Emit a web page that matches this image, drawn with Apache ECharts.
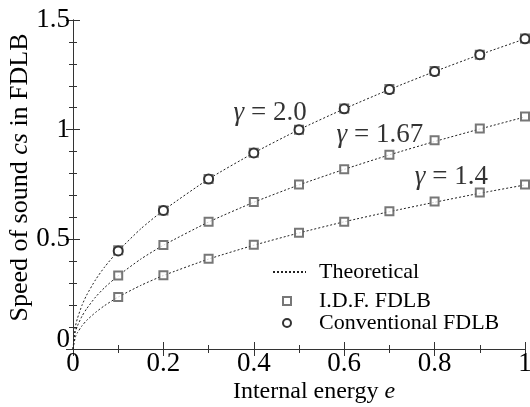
<!DOCTYPE html>
<html>
<head>
<meta charset="utf-8">
<script src="https://cdn.jsdelivr.net/npm/echarts@6/dist/echarts.min.js"></script>
<style>html,body{margin:0;padding:0;background:#fff}#c{width:530px;height:407px}</style>
</head>
<body>
<div id="c"></div>
<script>
// ---- data ----
const theoryE   = [0, 0.005, 0.01, 0.02, 0.03, 0.05, 0.07, 0.1, 0.15, 0.2, 0.3, 0.4, 0.5, 0.6, 0.7, 0.8, 0.9, 1.0];
const theoryG20 = [0, 0.100, 0.141, 0.200, 0.245, 0.316, 0.374, 0.447, 0.548, 0.632, 0.775, 0.894, 1.000, 1.095, 1.183, 1.265, 1.342, 1.414];
const theoryG167= [0, 0.075, 0.106, 0.150, 0.183, 0.237, 0.280, 0.334, 0.410, 0.473, 0.579, 0.669, 0.748, 0.819, 0.885, 0.946, 1.003, 1.058];
const theoryG14 = [0, 0.053, 0.075, 0.106, 0.130, 0.167, 0.198, 0.237, 0.290, 0.335, 0.410, 0.473, 0.529, 0.580, 0.626, 0.669, 0.710, 0.748];

const simE      = [0.1, 0.2, 0.3, 0.4, 0.5, 0.6, 0.7, 0.8, 0.9, 1.0];
const idfG20    = [0.450, 0.632, 0.775, 0.895, 1.000, 1.097, 1.185, 1.267, 1.342, 1.416];
const idfG167   = [0.335, 0.474, 0.580, 0.670, 0.750, 0.820, 0.886, 0.952, 1.005, 1.060];
const idfG14    = [0.237, 0.336, 0.411, 0.475, 0.530, 0.580, 0.628, 0.672, 0.713, 0.750];
const convG20   = [0.447, 0.632, 0.775, 0.894, 1.000, 1.095, 1.183, 1.265, 1.342, 1.414];

const gammaLabels = ['2.0', '1.67', '1.4'];
const gammaLabelE = [0.436, 0.679, 0.837];
const gammaLabelC = [1.076, 0.975, 0.784];

const xTicks = [0, 0.2, 0.4, 0.6, 0.8, 1];
const yTicks = [0, 0.5, 1, 1.5];
// -------------------------------------

const FONT = 'Liberation Serif';
const TXT = '#000';
const pair = (xs, ys) => xs.map((x, i) => [x, ys[i]]);

const chart = echarts.init(document.getElementById('c'), null, {renderer: 'canvas'});

const axisCommon = {
  type: 'value',
  axisLine: {show: true, lineStyle: {color: '#333', width: 1}},
  axisTick: {show: true, inside: true, length: 7, lineStyle: {color: '#333'}},
  minorTick: {show: true, length: 4, lineStyle: {color: '#333'}},
  splitLine: {show: false},
  minorSplitLine: {show: false}
};

const theoryLine = {
  type: 'line', name: 'Theoretical', symbol: 'none', smooth: 0.2,
  itemStyle: {color: '#222'},
  lineStyle: {color: '#222', width: 1, type: [2, 2]}, z: 2, silent: true
};

const option = {
  backgroundColor: '#fff',
  animation: false,
  grid: {left: 73, right: 5, top: 20, bottom: 58, containLabel: false, outerBoundsMode: 'none'},
  legend: [
    {
      data: [{name: 'Theoretical', itemStyle: {opacity: 0}}], left: 272, top: 261, padding: 0,
      itemWidth: 33, itemHeight: 10,
      textStyle: {fontFamily: FONT, fontSize: 22, color: TXT, lineHeight: 22, padding: [0, 0, 0, 8]}
    },
    {
      data: ['I.D.F. FDLB', 'Conventional FDLB'], orient: 'vertical',
      left: 282, top: 290, padding: 0, itemGap: 0,
      itemWidth: 8, itemHeight: 8,
      textStyle: {fontFamily: FONT, fontSize: 22, color: TXT, lineHeight: 22, padding: [0, 0, 0, 23]}
    }
  ],
  xAxis: [
    Object.assign({}, axisCommon, {
      min: 0, max: 1, interval: 0.2, position: 'bottom',
      minorTick: Object.assign({}, axisCommon.minorTick, {splitNumber: 2}),
      axisLabel: {
        fontFamily: FONT, fontSize: 27, color: TXT, margin: 1,
        formatter: v => (xTicks.indexOf(+v.toFixed(1)) >= 0 ? String(+v.toFixed(1)) : '')
      },
      name: 'Internal energy {i|e}', nameLocation: 'middle', nameGap: 31,
      nameMoveOverlap: false,
      nameTextStyle: {
        fontFamily: FONT, fontSize: 24, color: TXT, padding: [0, 0, 0, 30],
        rich: {i: {fontFamily: FONT, fontSize: 24, fontStyle: 'italic', color: TXT}}
      }
    }),
    Object.assign({}, axisCommon, {
      min: 0, max: 1, interval: 0.2, position: 'top',
      minorTick: Object.assign({}, axisCommon.minorTick, {splitNumber: 2}),
      axisLabel: {show: false}
    })
  ],
  yAxis: [
    Object.assign({}, axisCommon, {
      min: 0, max: 1.5, interval: 0.5, position: 'left',
      minorTick: Object.assign({}, axisCommon.minorTick, {splitNumber: 5}),
      axisLabel: {
        fontFamily: FONT, fontSize: 27, color: TXT, margin: 3,
        formatter: v => {
          const s = String(+v.toFixed(1));
          return v === 0 ? '{z|' + s + '}' : s;
        },
        rich: {z: {fontFamily: FONT, fontSize: 27, color: TXT, padding: [0, 0, 18, 0]}}
      },
      name: 'Speed of sound {i|cs} in FDLB', nameLocation: 'middle', nameGap: 40,
      nameMoveOverlap: false,
      nameTextStyle: {
        fontFamily: FONT, fontSize: 26, color: TXT, padding: [0, 0, 0, 14],
        rich: {i: {fontFamily: FONT, fontSize: 26, fontStyle: 'italic', color: TXT}}
      }
    }),
    Object.assign({}, axisCommon, {
      min: 0, max: 1.5, interval: 0.5, position: 'right',
      minorTick: Object.assign({}, axisCommon.minorTick, {splitNumber: 5}),
      axisLabel: {show: false}
    })
  ],
  series: [
    Object.assign({}, theoryLine, {data: pair(theoryE, theoryG20)}),
    Object.assign({}, theoryLine, {data: pair(theoryE, theoryG167)}),
    Object.assign({}, theoryLine, {data: pair(theoryE, theoryG14)}),
    {
      type: 'scatter', name: 'I.D.F. FDLB', symbol: 'emptyRect', symbolSize: 8,
      itemStyle: {color: '#555', borderWidth: 1}, z: 3,
      data: pair(simE, idfG20).concat(pair(simE, idfG167), pair(simE, idfG14))
    },
    {
      type: 'scatter', name: 'Conventional FDLB', symbol: 'emptyCircle', symbolSize: 9,
      itemStyle: {color: '#333', borderWidth: 1, opacity: 1}, z: 4,
      data: pair(simE, convG20)
    },
    {
      type: 'scatter', name: 'labels', symbolSize: 0, silent: true, z: 5,
      data: gammaLabels.map((t, i) => [gammaLabelE[i], gammaLabelC[i], t]),
      label: {
        show: true, position: 'inside',
        fontFamily: FONT, fontSize: 27, color: TXT,
        formatter: p => '{g|γ} = ' + p.data[2],
        rich: {g: {fontFamily: FONT, fontSize: 27, fontStyle: 'italic', color: TXT}}
      }
    }
  ]
};

chart.setOption(option);
</script>
</body>
</html>
